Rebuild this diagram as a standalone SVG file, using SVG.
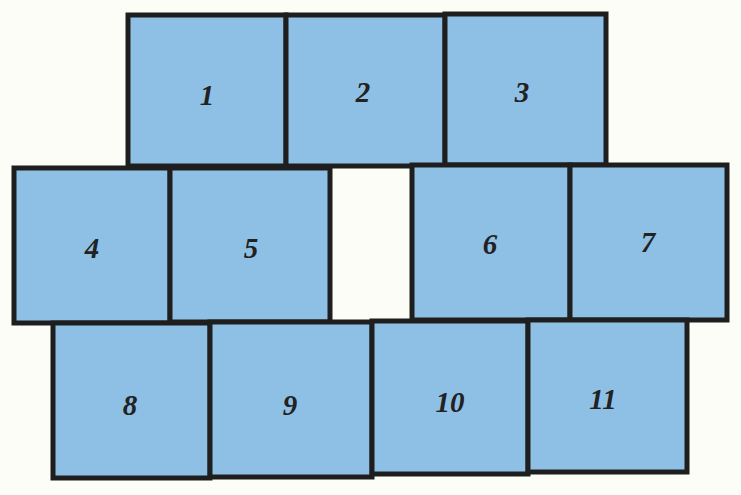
<svg xmlns="http://www.w3.org/2000/svg" width="741" height="495" viewBox="0 0 741 495">
<style>
.t{fill:#8ec0e5;stroke:#1e1e1e;stroke-width:5}
.l{font-family:"Liberation Serif",serif;font-style:italic;font-weight:bold;font-size:29px;fill:#222;text-anchor:middle}
</style>
<rect width="741" height="495" fill="#fdfdf7"/>
<g id="n1"><rect class="t" x="128" y="15" width="158" height="151"/><text class="l" x="207" y="105">1</text></g>
<g id="n2"><rect class="t" x="286" y="15" width="159" height="151"/><text class="l" x="363" y="102">2</text></g>
<g id="n3"><rect class="t" x="445" y="14" width="161" height="151"/><text class="l" x="522" y="102">3</text></g>
<g id="n4"><rect class="t" x="14" y="168" width="156" height="155"/><text class="l" x="92" y="258">4</text></g>
<g id="n5"><rect class="t" x="170" y="168" width="160" height="154"/><text class="l" x="251" y="258">5</text></g>
<g id="n6"><rect class="t" x="412" y="165" width="158" height="155"/><text class="l" x="490" y="254">6</text></g>
<g id="n7"><rect class="t" x="570" y="165" width="157" height="155"/><text class="l" x="648" y="252">7</text></g>
<g id="n8"><rect class="t" x="53" y="323" width="157" height="155"/><text class="l" x="130" y="415">8</text></g>
<g id="n9"><rect class="t" x="210" y="322" width="162" height="155"/><text class="l" x="290" y="415">9</text></g>
<g id="n10"><rect class="t" x="372" y="321" width="156" height="153"/><text class="l" x="450" y="412">10</text></g>
<g id="n11"><rect class="t" x="528" y="320" width="159" height="152"/><text class="l" x="603" y="409">11</text></g>
<g id="connectors"/>
</svg>
